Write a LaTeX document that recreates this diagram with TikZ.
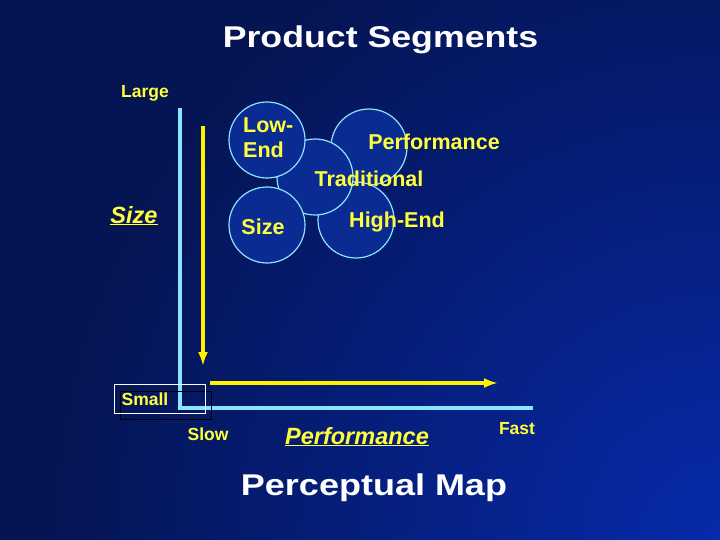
\documentclass[tikz,border=0pt]{standalone}
\usepackage{fontspec}
\setmainfont{Liberation Sans}
\usepackage{graphicx}
\usetikzlibrary{arrows.meta}
\definecolor{bgdark}{RGB}{5,20,82}
\definecolor{bgbright}{RGB}{6,42,170}
\definecolor{segfill}{RGB}{10,44,146}
\definecolor{axiscyan}{RGB}{140,228,255}
\definecolor{labelyellow}{RGB}{255,255,60}

\begin{document}
\begin{tikzpicture}[x=1pt, y=-1pt,
  lbl/.style={text=labelyellow, inner sep=0pt, anchor=base, font=\bfseries\fontsize{17.5}{20}\selectfont},
  seglbl/.style={lbl, font=\bfseries\fontsize{21.5}{24}\selectfont},
  axlbl/.style={lbl, font=\bfseries\itshape\fontsize{23.5}{26}\selectfont},
  headline/.style={text=white, inner sep=0pt, anchor=base, font=\bfseries\fontsize{30}{34}\selectfont},
  seg/.style={circle, draw=axiscyan, line width=1.2pt, fill=segfill, minimum size=76pt, inner sep=0pt},
  axis/.style={draw=axiscyan, line width=4.5pt},
  move/.style={draw=yellow, line width=4pt, -{Latex[length=14pt, width=10pt]}}]
\useasboundingbox (0,0) rectangle (720,540);
% background
\fill[bgdark] (0,0) rectangle (720,540);
\begin{scope}
\clip (0,0) rectangle (720,540);
\shade[inner color=bgbright, outer color=bgdark] (720,540) circle (680pt);
\end{scope}

\node[headline] (title) at (380.5,48) {\scalebox{1.19}[1]{Product Segments}};

% axes
\coordinate (ytop) at (180,108);
\coordinate (origin) at (180,408);
\coordinate (xend) at (533,408);
\draw[axis] (ytop) -- (origin) -- (xend);

\coordinate (sizefrom) at (203,126);
\coordinate (sizeto) at (203,366);
\draw[move] (sizefrom) -- (sizeto);
\coordinate (perffrom) at (210,383);
\coordinate (perfto) at (498,383);
\draw[move] (perffrom) -- (perfto);

% segments
\node[seg] (perfseg) at (369,147) {};
\node[seg] (highseg) at (356,220) {};
\node[seg] (tradseg) at (315,177) {};
\node[seg] (lowseg) at (267,140) {};
\node[seg] (sizeseg) at (267,225) {};

\node[seglbl, anchor=base west] (lowlbl) at (243,133) {Low-};
\node[seglbl, anchor=base west] (endlbl) at (243,158) {End};
\node[seglbl] (perflbl) at (434,150) {Performance};
\node[seglbl] (tradlbl) at (369,187) {Traditional};
\node[seglbl] (sizelbl) at (263,234) {Size};
\node[seglbl] (highlbl) at (397,227) {High-End};

% axis labels
\node[lbl] (large) at (145,98) {Large};
\node[axlbl] (sizeaxis) at (134,223) {\underline{Size}};
\draw[black, line width=0.8pt] (120,391) rectangle (211,419);
\draw[white, line width=0.8pt] (114,384) rectangle (205,413);
\node[lbl] (small) at (145,405) {Small};
\node[lbl] (slow) at (208,440) {Slow};
\node[axlbl] (perfaxis) at (357,444) {\underline{Performance}};
\node[lbl] (fast) at (517,434) {Fast};

\node[headline] (maptitle) at (374,495) {\scalebox{1.2}[1]{Perceptual Map}};
\end{tikzpicture}
\end{document}
